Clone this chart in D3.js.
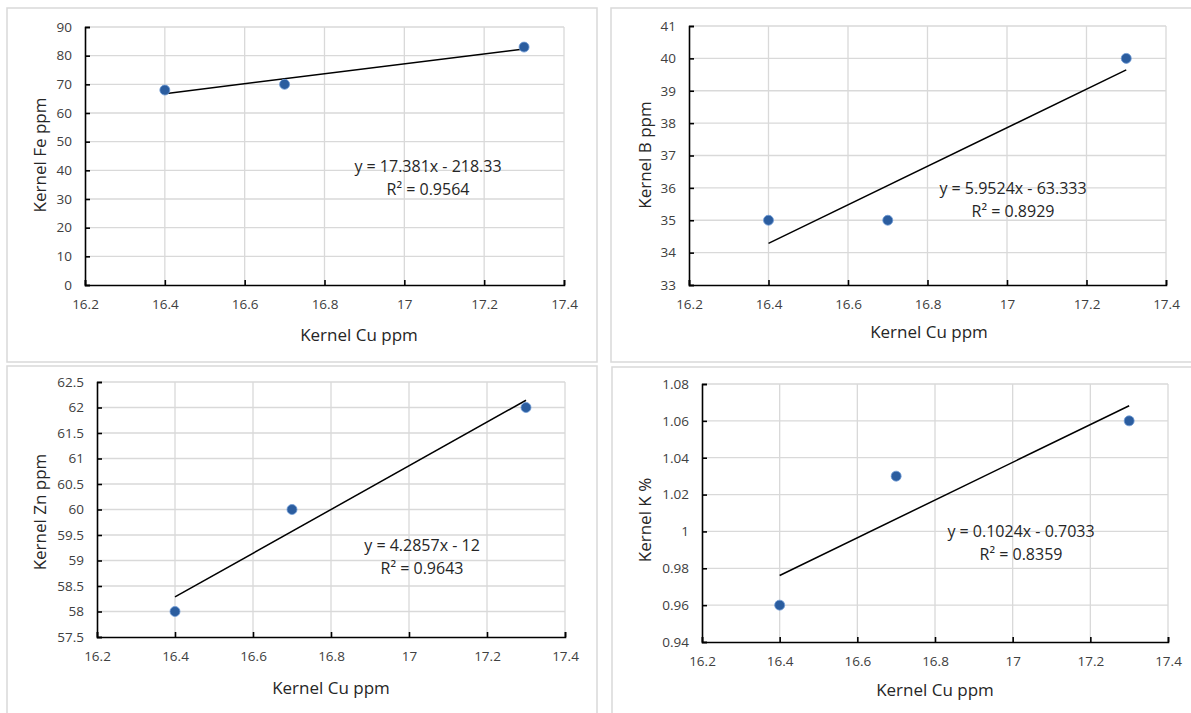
<!DOCTYPE html>
<html>
<head>
<meta charset="utf-8">
<script src="https://cdn.jsdelivr.net/npm/d3@7"></script>
<style>
  body { margin: 0; background: #fff; }
  text { font-family: "Open Sans", "Noto Sans", sans-serif; fill: #262626; }
  .tick text { font-size: 13.5px; fill: #404040; }
  .axisTitle { font-size: 17px; }
  .eq { font-size: 16px; }
</style>
</head>
<body>
<div id="chart"></div>
<script>
// data
var cuValues = [16.4, 16.7, 17.3];
var feValues = [68, 70, 83];
var bValues = [35, 35, 40];
var znValues = [58, 60, 62];
var kValues = [0.96, 1.03, 1.06];

var xTicks = [16.2, 16.4, 16.6, 16.8, 17, 17.2, 17.4];
var feTicks = [0, 10, 20, 30, 40, 50, 60, 70, 80, 90];
var bTicks = [33, 34, 35, 36, 37, 38, 39, 40, 41];
var znTicks = [57.5, 58, 58.5, 59, 59.5, 60, 60.5, 61, 61.5, 62, 62.5];
var kTicks = [0.94, 0.96, 0.98, 1, 1.02, 1.04, 1.06, 1.08];

// trendline labels
var slopes = [17.381, 5.9524, 4.2857, 0.1024];
var intercepts = [-218.33, -63.333, -12, -0.7033];
var rSquared = [0.9564, 0.8929, 0.9643, 0.8359];
var eqLabels = ["y = 17.381x - 218.33", "y = 5.9524x - 63.333", "y = 4.2857x - 12", "y = 0.1024x - 0.7033"];
var yTitles = ["Kernel Fe ppm", "Kernel B ppm", "Kernel Zn ppm", "Kernel K %"];

var svg = d3.select("#chart")
    .append("svg")
    .attr("width", 1191)
    .attr("height", 713);

// panel layout (pixels)
var panels = [
    { ys: feValues, ticks: feTicks, box: [7, 8, 590, 354], plot: [85, 564, 27, 285], xt: [359, 335], yt: [40, 155], eq: [428, 166] },
    { ys: bValues, ticks: bTicks, box: [611, 8, 590, 354], plot: [689, 1166, 26, 285], xt: [929, 332], yt: [645, 155], eq: [1013, 188] },
    { ys: znValues, ticks: znTicks, box: [7, 366, 590, 350], plot: [97, 565, 382, 637], xt: [331, 688], yt: [40, 512], eq: [422, 545] },
    { ys: kValues, ticks: kTicks, box: [612, 367, 590, 350], plot: [702, 1168, 384, 642], xt: [935, 690], yt: [645, 520], eq: [1021, 531] }
];

panels.forEach(function (p, i) {
    // outer frame
    svg.append("rect")
        .attr("x", p.box[0]).attr("y", p.box[1])
        .attr("width", p.box[2]).attr("height", p.box[3])
        .attr("fill", "#fff")
        .attr("stroke", "#d9d9d9")
        .attr("stroke-width", 1.5);

    var xScale = d3.scaleLinear()
        .domain([xTicks[0], xTicks[xTicks.length - 1]])
        .range([p.plot[0], p.plot[1]]);
    var yScale = d3.scaleLinear()
        .domain([p.ticks[0], p.ticks[p.ticks.length - 1]])
        .range([p.plot[3], p.plot[2]]);

    var g = svg.append("g");

    // gridlines
    g.selectAll("line.vgrid").data(xTicks.slice(1)).enter()
        .append("line")
        .attr("x1", d => xScale(d)).attr("x2", d => xScale(d))
        .attr("y1", p.plot[2]).attr("y2", p.plot[3])
        .attr("stroke", "#d9d9d9").attr("stroke-width", 1.3);
    g.selectAll("line.hgrid").data(p.ticks.slice(1)).enter()
        .append("line")
        .attr("x1", p.plot[0]).attr("x2", p.plot[1])
        .attr("y1", d => yScale(d)).attr("y2", d => yScale(d))
        .attr("stroke", "#d9d9d9").attr("stroke-width", 1.3);

    // axes, ticks pointing inward
    var xAxis = d3.axisBottom(xScale).tickValues(xTicks).tickSize(-5).tickSizeOuter(-5)
        .tickPadding(14).tickFormat(d3.format(""));
    var yAxis = d3.axisLeft(yScale).tickValues(p.ticks).tickSize(-5).tickSizeOuter(-5)
        .tickPadding(13).tickFormat(d3.format(""));

    g.append("g")
        .attr("transform", `translate(0, ${p.plot[3]})`)
        .call(xAxis)
        .call(a => a.selectAll("path, line").attr("stroke", "#000").attr("stroke-width", 1.6));
    g.append("g")
        .attr("transform", `translate(${p.plot[0]}, 0)`)
        .call(yAxis)
        .call(a => a.selectAll("path, line").attr("stroke", "#000").attr("stroke-width", 1.6));
    g.selectAll(".tick text").attr("font-family", null).attr("font-size", null);

    // trendline over the data range
    var x0 = d3.min(cuValues), x1 = d3.max(cuValues);
    g.append("line")
        .attr("x1", xScale(x0)).attr("y1", yScale(slopes[i] * x0 + intercepts[i]))
        .attr("x2", xScale(x1)).attr("y2", yScale(slopes[i] * x1 + intercepts[i]))
        .attr("stroke", "#000").attr("stroke-width", 1.5);

    // points
    g.selectAll("circle").data(cuValues).enter()
        .append("circle")
        .attr("cx", d => xScale(d))
        .attr("cy", (d, j) => yScale(p.ys[j]))
        .attr("r", 5)
        .attr("fill", "#2b5d9f")
        .attr("stroke", "#6f9bd6")
        .attr("stroke-width", 0.8);

    // equation
    g.append("text")
        .attr("class", "eq")
        .attr("x", p.eq[0]).attr("y", p.eq[1])
        .attr("text-anchor", "middle").attr("dy", "0.35em")
        .text(eqLabels[i]);
    g.append("text")
        .attr("class", "eq")
        .attr("x", p.eq[0]).attr("y", p.eq[1] + 23)
        .attr("text-anchor", "middle").attr("dy", "0.35em")
        .text("R² = " + rSquared[i]);

    // axis labels
    g.append("text")
        .attr("class", "axisTitle")
        .attr("x", p.xt[0]).attr("y", p.xt[1])
        .attr("text-anchor", "middle").attr("dy", "0.35em")
        .text("Kernel Cu ppm");
    g.append("text")
        .attr("class", "axisTitle")
        .attr("transform", `translate(${p.yt[0]}, ${p.yt[1]}) rotate(-90)`)
        .attr("text-anchor", "middle").attr("dy", "0.35em")
        .text(yTitles[i]);
});
</script>
</body>
</html>
